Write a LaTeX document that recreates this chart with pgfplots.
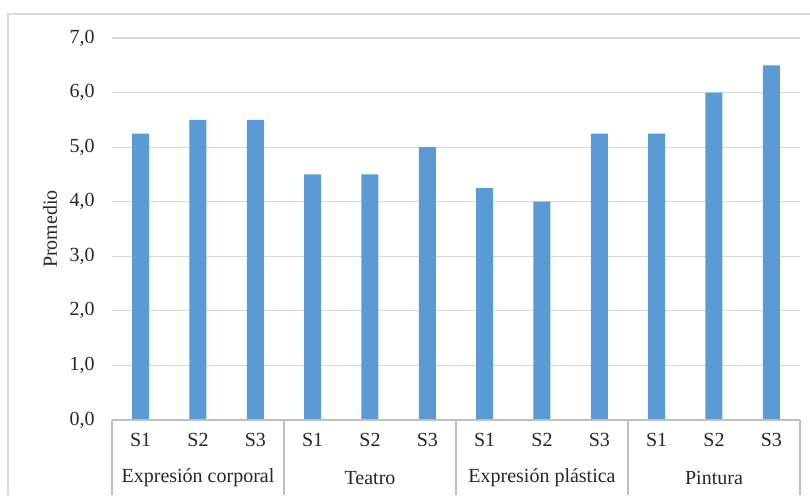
\documentclass[border=0pt]{standalone}
\usepackage{fontspec}
\setmainfont{Liberation Serif}
\usepackage{pgfplots}
\pgfplotsset{compat=1.18}
\definecolor{barblue}{HTML}{5B9BD5}
\definecolor{gridgray}{HTML}{D9D9D9}
\definecolor{axgray}{HTML}{BFBFBF}
\definecolor{txt}{HTML}{262626}
\begin{document}
\begin{tikzpicture}
\useasboundingbox (-56pt,-37.5pt) rectangle (349pt,210pt);
\draw[gridgray, line width=0.6pt] (-52pt,-37.5pt) -- (-52pt,203pt) -- (349pt,203pt);
\begin{axis}[
  at={(0,0)}, anchor=south west,
  scale only axis, width=344pt, height=191pt,
  xmin=-0.5, xmax=11.5, ymin=0, ymax=7,
  ytick={0,...,7}, xtick={0,...,11},
  xticklabels={S1,S2,S3,S1,S2,S3,S1,S2,S3,S1,S2,S3},
  major tick length=0pt,
  axis line style={draw=none},
  ymajorgrids, grid style={gridgray, line width=0.6pt},
  clip=false,
  tick label style={font=\fontsize{10}{12}\selectfont, text=txt},
  xticklabel style={anchor=center, yshift=-10pt},
  yticklabel style={anchor=east, xshift=-5.2pt, /pgf/number format/.cd, fixed, fixed zerofill, precision=1, use comma, assume math mode=true},
]
\addplot[ybar, bar width=8.5pt, fill=barblue, draw=none] coordinates {
  (0,5.25) (1,5.5) (2,5.5)
  (3,4.5) (4,4.5) (5,5.0)
  (6,4.25) (7,4.0) (8,5.25)
  (9,5.25) (10,6.0) (11,6.5)
};
\draw[axgray, line width=0.6pt] (axis cs:-0.5,0) -- (axis cs:11.5,0);
\draw[axgray, line width=0.6pt] (axis cs:-0.5,0) -- ++(0pt,-37.5pt);
\draw[axgray, line width=0.6pt] (axis cs:2.5,0) -- ++(0pt,-37.5pt);
\draw[axgray, line width=0.6pt] (axis cs:5.5,0) -- ++(0pt,-37.5pt);
\draw[axgray, line width=0.6pt] (axis cs:8.5,0) -- ++(0pt,-37.5pt);
\draw[axgray, line width=0.6pt] (axis cs:11.5,0) -- ++(0pt,-37.5pt);
\node[font=\fontsize{10}{12}\selectfont, text=txt] at ([yshift=-29pt]axis cs:1,0) {Expresión corporal};
\node[font=\fontsize{10}{12}\selectfont, text=txt] at ([yshift=-29pt]axis cs:4,0) {Teatro};
\node[font=\fontsize{10}{12}\selectfont, text=txt] at ([yshift=-29pt]axis cs:7,0) {Expresión plástica};
\node[font=\fontsize{10}{12}\selectfont, text=txt] at ([yshift=-29pt]axis cs:10,0) {Pintura};
\node[rotate=90, font=\fontsize{10}{12}\selectfont, text=txt] at ([xshift=-31pt]axis description cs:0,0.5) {Promedio};
\end{axis}
\end{tikzpicture}
\end{document}
